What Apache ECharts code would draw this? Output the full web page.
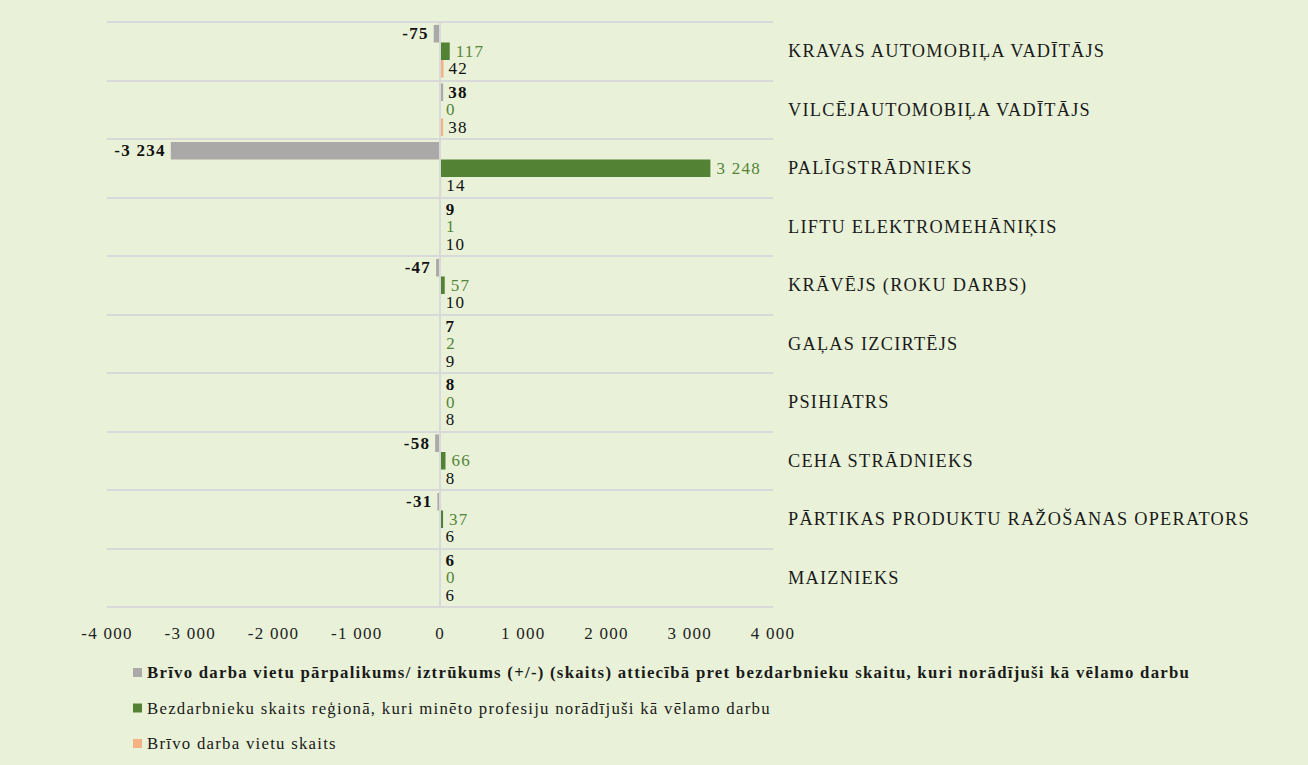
<!DOCTYPE html>
<html><head><meta charset="utf-8">
<script src="https://cdn.jsdelivr.net/npm/echarts@6/dist/echarts.min.js"></script>
<style>html,body{margin:0;padding:0;background:#E9F2D8;}#c{width:1308px;height:765px;}#c svg text{letter-spacing:1.25px;}</style>
</head><body><div id="c"></div>
<script>
const categories = ["KRAVAS AUTOMOBIĻA VADĪTĀJS","VILCĒJAUTOMOBIĻA VADĪTĀJS","PALĪGSTRĀDNIEKS","LIFTU ELEKTROMEHĀNIĶIS","KRĀVĒJS (ROKU DARBS)","GAĻAS IZCIRTĒJS","PSIHIATRS","CEHA STRĀDNIEKS","PĀRTIKAS PRODUKTU RAŽOŠANAS OPERATORS","MAIZNIEKS"];
const seriesNames = ["Brīvo darba vietu pārpalikums/ iztrūkums (+/-) (skaits) attiecībā pret bezdarbnieku skaitu, kuri norādījuši kā vēlamo darbu","Bezdarbnieku skaits reģionā, kuri minēto profesiju norādījuši kā vēlamo darbu","Brīvo darba vietu skaits"];
const diffValues = [-75, 38, -3234, 9, -47, 7, 8, -58, -31, 6];
const unemployedValues = [117, 0, 3248, 1, 57, 2, 0, 66, 37, 0];
const vacancyValues = [42, 38, 14, 10, 10, 9, 8, 8, 6, 6];
const xTicks = {min: -4000, max: 4000, interval: 1000};

const FONT = "'Liberation Serif', 'Times New Roman', serif";
const fmt = v => { const s = Math.abs(v).toString().replace(/\B(?=(\d{3})+(?!\d))/g, ' '); return (v < 0 ? '-' : '') + s; };

const chart = echarts.init(document.getElementById('c'), null, {renderer: 'svg'});
chart.setOption({
  backgroundColor: '#E9F2D8',
  textStyle: {fontFamily: FONT},
  grid: {left: 107, right: 535, top: 22, bottom: 158, containLabel: false},
  xAxis: {
    type: 'value', min: xTicks.min, max: xTicks.max, interval: xTicks.interval,
    axisLine: {show: false}, axisTick: {show: false}, splitLine: {show: false},
    axisLabel: {fontFamily: FONT, fontSize: 17, color: '#222', margin: 18, formatter: v => fmt(v)}
  },
  yAxis: {
    type: 'category', data: categories, inverse: true, position: 'right',
    axisLine: {show: false}, axisTick: {show: false},
    splitLine: {show: true, lineStyle: {color: '#D9D9D9', width: 2}},
    axisLabel: {fontFamily: FONT, fontSize: 18.3, color: '#1a1a1a', margin: 15, align: 'left', padding: [12, 0, 0, 0]}
  },
  legend: {
    orient: 'vertical', left: 128, top: 659, itemGap: 18.5, icon: 'rect', itemWidth: 9, itemHeight: 9,
    data: seriesNames,
    formatter: n => n === seriesNames[0] ? '{b|' + n + '}' : '{n|' + n + '}',
    textStyle: {fontFamily: FONT, fontSize: 17, color: '#1a1a1a',
      rich: {b: {fontFamily: FONT, fontSize: 16.8, fontWeight: 'bold', color: '#1a1a1a'}, n: {fontFamily: FONT, fontSize: 16.8, color: '#1a1a1a'}}}
  },
  series: [
    {
      name: seriesNames[0], type: 'bar', barGap: '0%', barCategoryGap: '10%',
      itemStyle: {color: '#ABA8A8'},
      data: diffValues.map(v => ({value: v, label: {position: v < 0 ? 'left' : 'right'}})),
      label: {show: true, fontFamily: FONT, fontSize: 17, fontWeight: 'bold', color: '#111', distance: 5, formatter: p => fmt(p.value)},
      markLine: {silent: true, symbol: 'none', label: {show: false}, lineStyle: {color: '#D9D9D9', width: 2, type: 'solid'}, data: [{xAxis: 0}]}
    },
    {
      name: seriesNames[1], type: 'bar', barGap: '0%', barCategoryGap: '10%',
      itemStyle: {color: '#548235'},
      data: unemployedValues,
      label: {show: true, position: 'right', fontFamily: FONT, fontSize: 17, color: '#55843A', distance: 6, formatter: p => fmt(p.value)}
    },
    {
      name: seriesNames[2], type: 'bar', barGap: '0%', barCategoryGap: '10%',
      itemStyle: {color: '#F4B183'},
      data: vacancyValues,
      label: {show: true, position: 'right', fontFamily: FONT, fontSize: 17, color: '#111', distance: 5, formatter: p => fmt(p.value)}
    }
  ]
});
</script></body></html>
